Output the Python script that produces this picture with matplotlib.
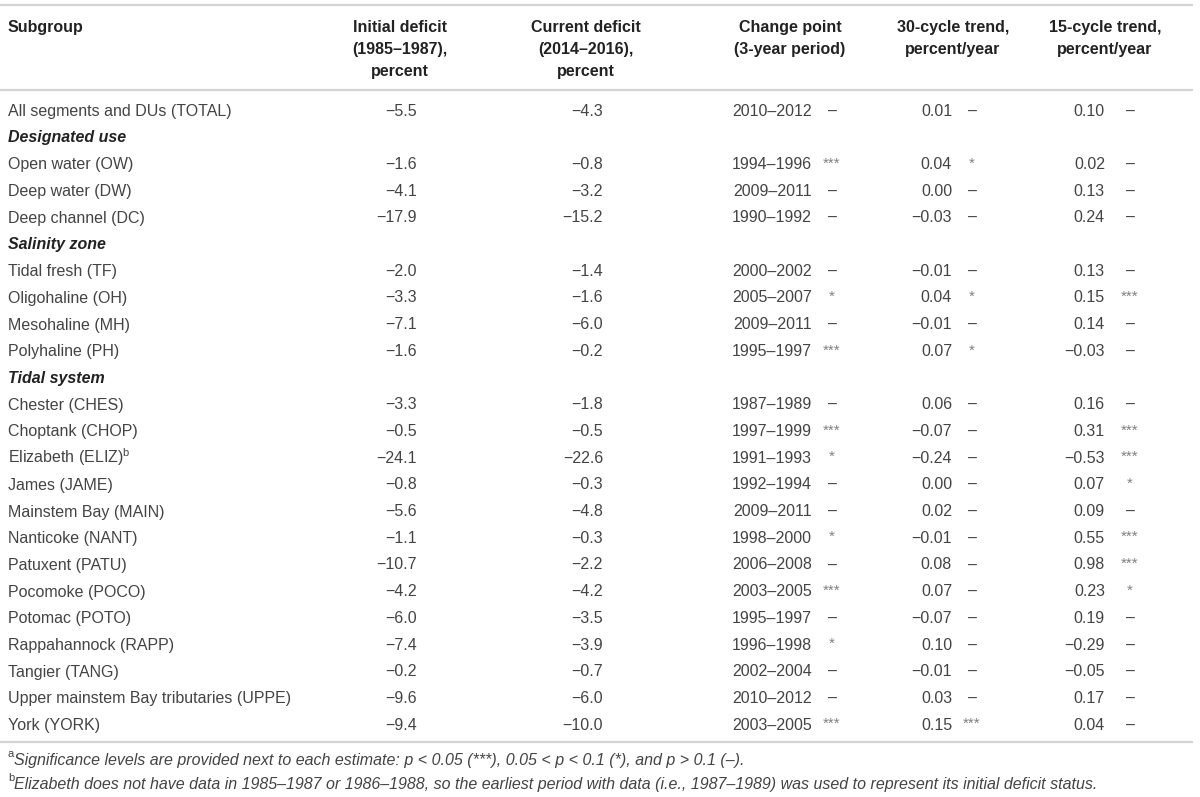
import matplotlib
matplotlib.use('Agg')
import matplotlib.pyplot as plt

plt.rcParams['font.family'] = ['Liberation Sans', 'DejaVu Sans']
plt.rcParams['mathtext.fontset'] = 'custom'
plt.rcParams['mathtext.rm'] = 'Liberation Sans'
plt.rcParams['mathtext.it'] = 'Liberation Sans:italic'

# table data
subgroups = ['All segments and DUs (TOTAL)', 'Designated use',
             'Open water (OW)', 'Deep water (DW)', 'Deep channel (DC)',
             'Salinity zone',
             'Tidal fresh (TF)', 'Oligohaline (OH)', 'Mesohaline (MH)', 'Polyhaline (PH)',
             'Tidal system',
             'Chester (CHES)', 'Choptank (CHOP)', 'Elizabeth (ELIZ)$^{\\mathrm{b}}$',
             'James (JAME)',
             'Mainstem Bay (MAIN)', 'Nanticoke (NANT)', 'Patuxent (PATU)', 'Pocomoke (POCO)',
             'Potomac (POTO)', 'Rappahannock (RAPP)', 'Tangier (TANG)',
             'Upper mainstem Bay tributaries (UPPE)', 'York (YORK)']
sections = ['Designated use', 'Salinity zone', 'Tidal system']
initial = ['−5.5', None, '−1.6', '−4.1', '−17.9', None, '−2.0', '−3.3', '−7.1', '−1.6', None,
           '−3.3', '−0.5', '−24.1', '−0.8', '−5.6', '−1.1', '−10.7', '−4.2', '−6.0', '−7.4',
           '−0.2', '−9.6', '−9.4']
current = ['−4.3', None, '−0.8', '−3.2', '−15.2', None, '−1.4', '−1.6', '−6.0', '−0.2', None,
           '−1.8', '−0.5', '−22.6', '−0.3', '−4.8', '−0.3', '−2.2', '−4.2', '−3.5', '−3.9',
           '−0.7', '−6.0', '−10.0']
change = ['2010–2012', None, '1994–1996', '2009–2011', '1990–1992', None, '2000–2002',
          '2005–2007', '2009–2011', '1995–1997', None, '1987–1989', '1997–1999', '1991–1993',
          '1992–1994', '2009–2011', '1998–2000', '2006–2008', '2003–2005', '1995–1997',
          '1996–1998', '2002–2004', '2010–2012', '2003–2005']
change_sig = ['–', None, '***', '–', '–', None, '–', '*', '–', '***', None, '–', '***', '*',
              '–', '–', '*', '–', '***', '–', '*', '–', '–', '***']
trend30 = ['0.01', None, '0.04', '0.00', '−0.03', None, '−0.01', '0.04', '−0.01', '0.07', None,
           '0.06', '−0.07', '−0.24', '0.00', '0.02', '−0.01', '0.08', '0.07', '−0.07', '0.10',
           '−0.01', '0.03', '0.15']
sig30 = ['–', None, '*', '–', '–', None, '–', '*', '–', '*', None, '–', '–', '–', '–', '–',
         '–', '–', '–', '–', '–', '–', '–', '***']
trend15 = ['0.10', None, '0.02', '0.13', '0.24', None, '0.13', '0.15', '0.14', '−0.03', None,
           '0.16', '0.31', '−0.53', '0.07', '0.09', '0.55', '0.98', '0.23', '0.19', '−0.29',
           '−0.05', '0.17', '0.04']
sig15 = ['–', None, '–', '–', '–', None, '–', '***', '–', '–', None, '–', '***', '***', '*',
         '–', '***', '***', '*', '–', '–', '–', '–', '–']
headers = ['Initial deficit\n(1985–1987),\npercent', 'Current deficit\n(2014–2016),\npercent',
           'Change point\n(3-year period)', '30-cycle trend,\npercent/year',
           '15-cycle trend,\npercent/year']
footnote_a = ('Significance levels are provided next to each estimate: p < 0.05 (***), '
              '0.05 < p < 0.1 (*), and p > 0.1 (–).')
footnote_b = ('Elizabeth does not have data in 1985–1987 or 1986–1988, so the earliest period '
              'with data (i.e., 1987–1989) was used to represent its initial deficit status.')

fig = plt.figure(figsize=(12, 7.97), dpi=100)
ax = fig.add_axes([0, 0, 1, 1])
ax.set_xlim(0, 1200)
ax.set_ylim(797, 0)
ax.axis('off')

fs = 11.5
body = '#444444'
head = '#222222'
line_c = '#d4d4d4'

# rules
for y in [5, 90, 742]:
    ax.plot([0, 1193], [y, y], color=line_c, lw=1.6, solid_capstyle='butt')

# header, one line at a time
ax.text(8, 27, 'Subgroup', fontsize=fs, fontweight='bold', color=head, va='center')
head_x = [400, 586, 790, 953, 1105]
for hx, h in zip(head_x, headers):
    for k, part in enumerate(h.split('\n')):
        ax.text(hx, 27 + k * 22, part, fontsize=fs, fontweight='bold', color=head,
                ha='center', va='center')

# rows
y0 = 111
dy = 26.7
for i, name in enumerate(subgroups):
    y = y0 + i * dy
    if name in sections:
        ax.text(8, y, name, fontsize=fs, fontweight='bold', style='italic', color=head,
                va='center')
        continue
    ax.text(8, y + 5, name, fontsize=fs, color=body, va='baseline')
    ax.text(417, y, initial[i], fontsize=fs, color=body, ha='right', va='center')
    ax.text(603, y, current[i], fontsize=fs, color=body, ha='right', va='center')
    ax.text(812, y, change[i], fontsize=fs, color=body, ha='right', va='center')
    ax.text(952, y, trend30[i], fontsize=fs, color=body, ha='right', va='center')
    ax.text(1105, y, trend15[i], fontsize=fs, color=body, ha='right', va='center')
    for mx, s in [(832, change_sig[i]), (972, sig30[i]), (1130, sig15[i])]:
        if s == '–':
            ax.text(mx, y, s, fontsize=fs, color=body, ha='center', va='center')
        else:
            ax.text(mx, y - 1, s, fontsize=11, color='#808080', ha='center', va='center')

# footnotes
for y, sup, note in [(761, 'a', footnote_a), (785, 'b', footnote_b)]:
    ax.text(8, y - 7, sup, fontsize=8, color=body, va='center')
    ax.text(14, y, note, fontsize=fs, style='italic', color=body, va='center')

fig.savefig('out.png', dpi=100)
